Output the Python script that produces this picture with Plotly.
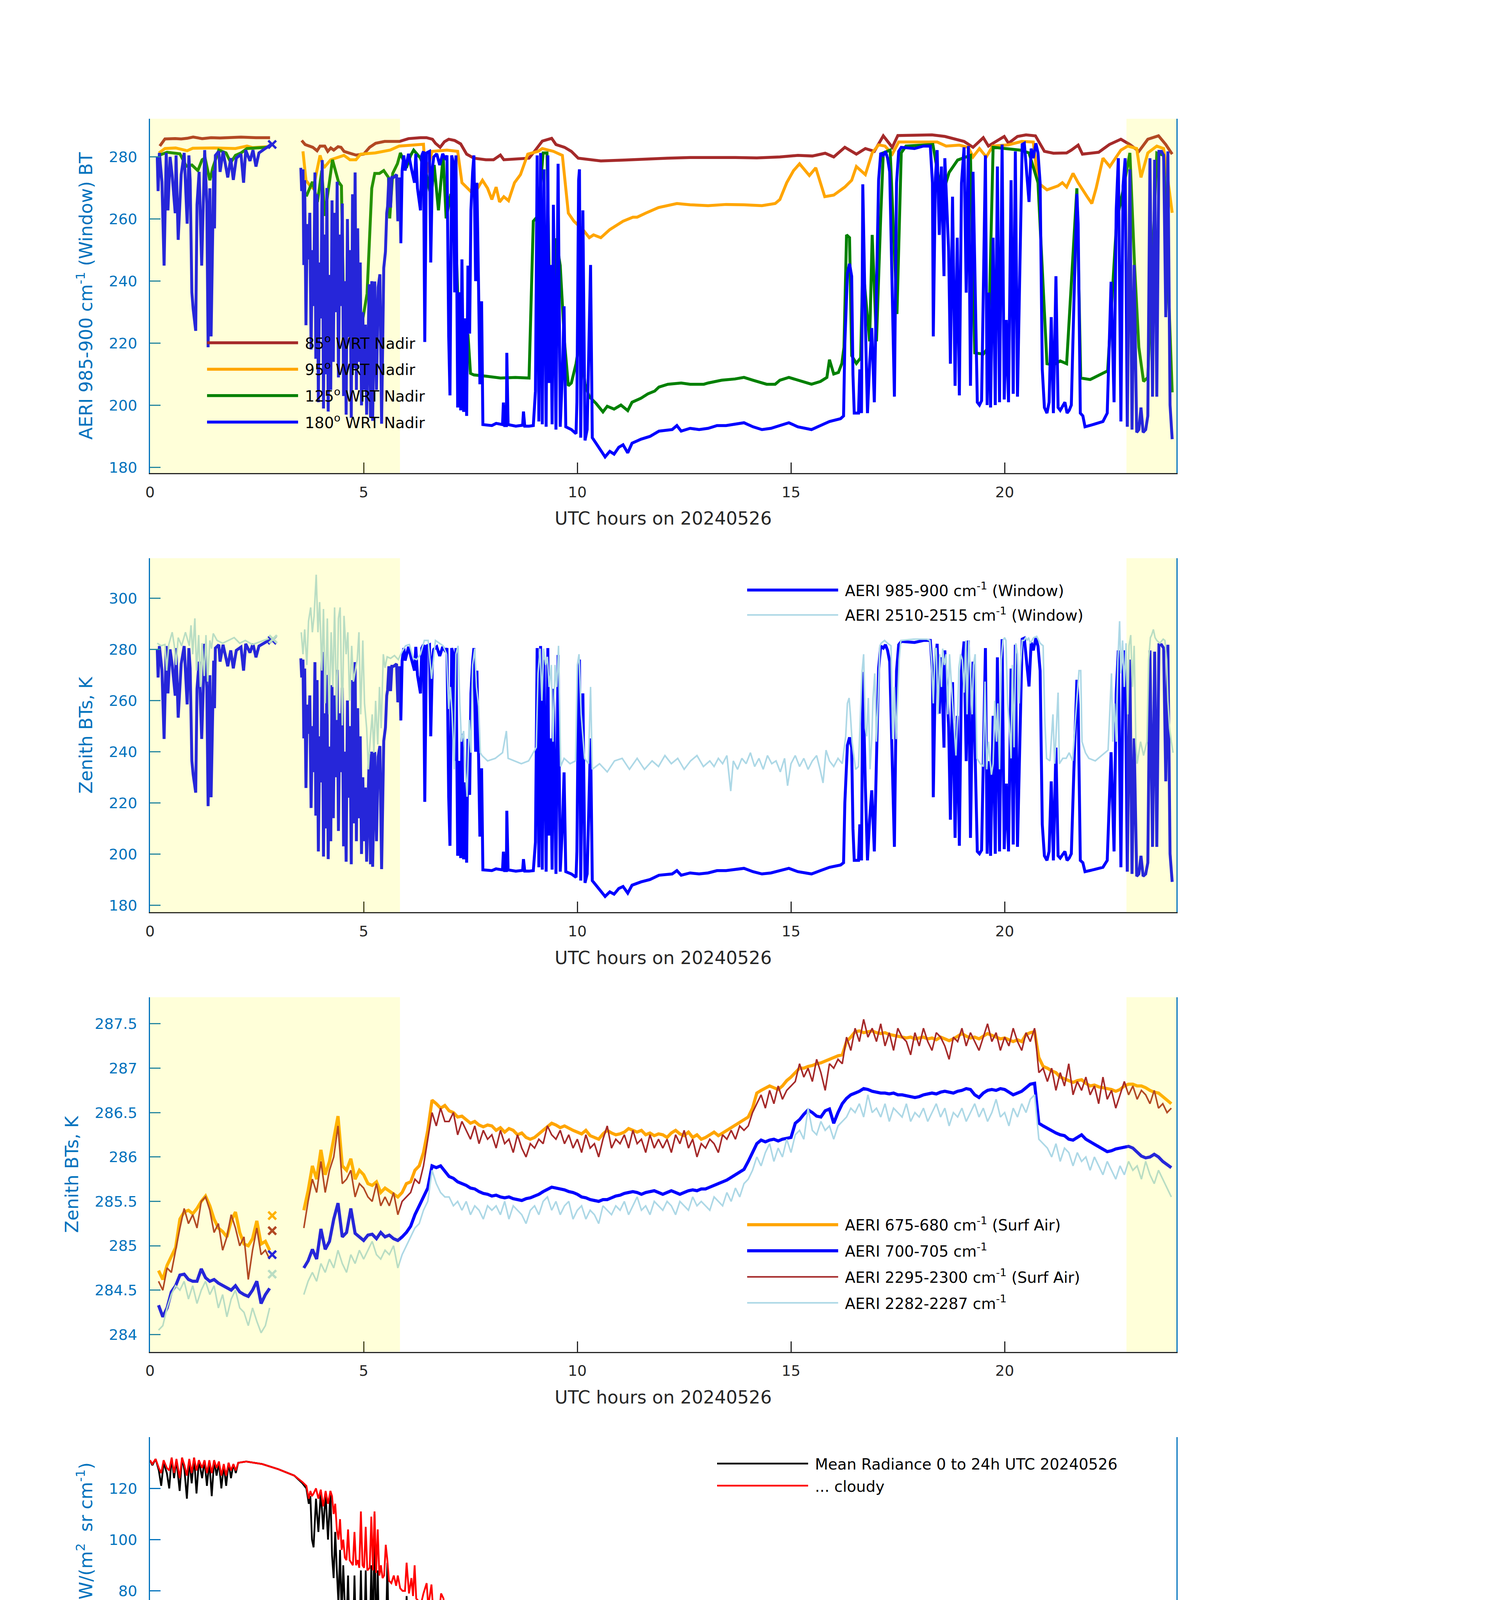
import plotly.graph_objects as go

FONT = "DejaVu Sans"
GRAY = "rgb(38,38,38)"
AXBLUE = "rgb(0,114,189)"
C_BROWN = "rgb(165,42,42)"
C_ORANGE = "rgb(255,165,0)"
C_GREEN = "rgb(0,128,0)"
C_BLUE = "rgb(0,0,255)"
C_LBLUE = "rgb(173,216,230)"

# ---------------- Panel 1 : (UTC hour, BT K) ----------------
P1_85 = [(0.23,283.5),(0.35,285.8),(0.59,285.9),(0.73,285.8),(0.87,286.0),(1.01,286.4),(1.22,285.9),(1.43,286.2),(1.64,286.1),(1.85,286.2),(2.13,286.4),(2.48,286.2),(2.81,286.2),(3.2,None),
(3.55,285.3),(3.63,284.0),(3.81,283.1),(3.91,282.0),(3.98,283.5),(4.09,283.5),(4.16,281.8),(4.23,282.9),(4.30,282.2),(4.40,283.3),(4.47,283.1),(4.54,281.8),(4.65,281.3),(4.82,280.6),(5.00,280.9),(5.14,283.1),(5.28,284.4),(5.49,285.0),(5.84,285.0),(6.05,285.9),(6.33,286.2),(6.47,286.2),(6.61,285.7),(6.68,284.4),(6.79,283.1),(6.89,284.9),(6.99,285.7),(7.13,285.3),(7.27,284.2),(7.41,280.9),(7.58,279.6),(7.86,279.1),(8.04,279.1),(8.20,280.6),(8.28,279.1),(8.63,279.4),(8.87,279.6),(9.02,282.2),(9.18,285.1),(9.40,286.0),(9.50,284.0),(9.70,283.1),(9.86,281.8),(10.02,279.6),(10.55,278.7),(11.10,279.0),(11.60,279.4),(12.10,279.6),(12.64,279.8),(13.20,279.9),(13.70,279.8),(14.20,279.7),(14.74,280.0),(15.16,280.5),(15.50,280.3),(15.80,281.2),(16.00,280.0),(16.26,283.1),(16.53,280.9),(16.74,282.7),(16.95,281.8),(17.16,286.8),(17.37,283.1),(17.50,286.9),(18.30,287.1),(18.60,286.6),(18.84,285.8),(19.05,285.0),(19.26,283.1),(19.50,286.2),(19.62,283.5),(19.78,284.9),(19.99,286.6),(20.09,284.4),(20.30,286.6),(20.50,287.1),(20.72,286.8),(20.93,281.8),(21.14,281.2),(21.45,281.3),(21.56,282.2),(21.72,283.8),(21.82,280.9),(22.20,281.5),(22.45,284.0),(22.72,285.7),(22.93,284.0),(23.14,281.8),(23.35,285.7),(23.60,286.8),(23.77,284.0),(23.92,280.9)]

P1_95 = [(0.21,281.3),(0.35,282.7),(0.6,282.9),(0.87,282.0),(1.0,282.8),(1.5,282.9),(2.0,282.7),(2.27,283.5),(2.4,283.0),(2.76,283.3),(3.2,None),
(3.58,281.8),(3.65,272.5),(3.77,270.3),(3.82,269.9),(3.98,280.5),(4.07,276.5),(4.23,279.1),(4.44,279.9),(4.54,280.5),(4.68,279.1),(4.82,279.1),(4.93,280.9),(5.27,281.3),(5.62,282.2),(5.83,283.5),(6.40,284.1),(6.45,273.4),(6.60,281.8),(6.95,282.2),(7.20,281.8),(7.30,271.7),(7.50,269.0),(7.57,267.7),(7.78,272.5),(7.90,269.9),(8.00,266.3),(8.10,270.3),(8.18,265.5),(8.28,267.2),(8.39,265.9),(8.53,271.7),(8.67,274.3),(8.84,280.9),
(9.08,281.8),(9.18,282.7),(9.44,281.8),(9.65,280.5),(9.79,261.9),(9.92,259.3),(10.13,256.6),(10.28,254.0),(10.38,254.9),(10.55,254.0),(10.76,256.6),(11.07,259.3),(11.30,260.6),(11.40,260.6),(11.60,261.9),(11.90,263.7),(12.33,265.0),(12.64,264.6),(13.06,264.3),(13.48,264.7),(13.90,264.6),(14.32,264.3),(14.63,265.0),(14.74,266.3),(14.90,271.7),(15.06,275.6),(15.20,277.8),(15.43,274.0),(15.58,276.5),(15.79,267.2),(16.00,267.7),(16.26,270.3),(16.42,272.5),(16.53,276.9),(16.74,274.3),(16.90,281.3),(17.05,283.9),(17.20,283.5),(17.37,280.9),(17.52,284.8),(18.42,284.8),(18.63,283.5),(18.94,283.8),(19.15,283.1),(19.26,280.0),(19.41,282.7),(19.57,280.0),(19.72,283.5),(20.09,283.9),(20.40,285.0),(20.67,284.8),(20.78,271.7),(20.99,269.4),(21.25,270.7),(21.35,271.7),(21.45,270.3),(21.60,274.7),(21.72,271.7),(21.93,267.2),(22.04,265.0),(22.14,269.9),(22.30,279.6),(22.46,276.9),(22.72,282.2),(22.88,283.5),(23.09,282.7),(23.19,273.4),(23.35,281.3),(23.56,283.5),(23.72,282.7),(23.82,272.5),(23.92,262.0)]

P1_125 = [(0.21,280.5),(0.40,281.5),(0.70,281.0),(0.85,277.0),(0.98,277.4),(1.12,275.6),(1.22,279.1),(1.29,279.6),(1.40,272.5),(1.47,276.5),(1.61,282.2),(1.78,281.3),(1.89,278.2),(2.00,280.5),(2.13,281.3),(2.27,282.7),(2.76,283.1),(3.2,None),
(3.58,268.0),(3.67,267.7),(3.80,272.0),(3.92,265.5),(4.02,275.6),(4.09,261.0),(4.27,279.1),(4.41,272.0),(4.48,270.7),(4.55,216.0),(4.62,236.0),(4.73,227.0),(4.87,217.0),(4.97,227.0),(5.08,236.0),(5.19,269.9),(5.26,274.7),(5.37,274.7),(5.47,275.6),(5.58,273.4),(5.61,260.2),(5.68,274.7),(5.79,277.8),(5.86,281.3),(6.00,276.5),(6.10,280.5),(6.17,282.2),(6.33,279.6),(6.47,274.3),(6.58,266.8),(6.65,277.4),(6.75,262.8),(6.86,280.5),(6.93,260.2),(7.04,268.1),(7.14,261.0),(7.20,236.4),(7.30,218.7),(7.37,212.5),(7.44,223.0),(7.50,210.3),(7.58,209.8),(7.86,209.4),(8.20,208.8),(8.55,209.0),(8.87,208.8),(8.97,259.3),(9.08,261.0),(9.20,281.3),(9.29,281.3),(9.34,243.4),(9.41,221.2),(9.50,253.8),(9.60,245.0),(9.70,220.3),(9.79,206.3),(9.86,207.2),(9.97,213.4),(10.07,222.2),(10.18,206.8),(10.28,202.8),(10.44,200.6),(10.60,197.9),(10.70,199.7),(10.86,198.8),(11.02,200.1),(11.18,198.3),(11.28,201.0),(11.49,202.3),(11.65,203.7),(11.81,204.6),(11.91,205.9),(12.12,206.8),(12.43,207.2),(12.64,206.8),(12.96,206.8),(13.06,207.2),(13.38,208.1),(13.69,208.5),(13.90,209.0),(14.11,208.1),(14.43,206.8),(14.63,206.8),(14.74,208.1),(14.95,209.0),(15.27,207.7),(15.48,206.8),(15.69,207.7),(15.84,209.0),(15.90,214.7),(16.00,210.1),(16.11,210.6),(16.19,213.5),(16.24,218.7),(16.30,254.9),(16.37,254.0),(16.42,216.0),(16.53,213.5),(16.63,215.3),(16.68,245.2),(16.74,236.4),(16.84,220.6),(16.90,254.9),(17.00,220.6),(17.10,261.0),(17.16,281.3),(17.32,282.2),(17.48,229.4),(17.58,281.3),(17.69,283.5),(18.32,284.0),(18.42,276.1),(18.53,267.2),(18.70,275.0),(18.90,279.0),(19.20,280.5),(19.30,216.9),(19.50,216.5),(19.62,218.7),(19.73,283.1),(20.36,282.2),(20.57,281.3),(20.78,271.7),(20.99,213.4),(21.14,213.0),(21.30,214.3),(21.45,213.4),(21.69,269.9),(21.78,208.8),(22.00,208.3),(22.20,209.7),(22.41,211.1),(22.62,259.3),(22.78,269.9),(22.93,281.3),(23.04,245.0),(23.14,218.7),(23.25,207.7),(23.35,209.0),(23.56,281.3),(23.72,280.5),(23.82,245.0),(23.92,204.2)]

P1_180 = [(0.17,280.0),(0.19,269.0),(0.22,281.3),(0.28,272.0),(0.33,245.0),(0.38,281.3),(0.42,262.8),(0.47,280.0),(0.52,274.0),(0.59,261.9),(0.61,280.5),(0.66,253.3),(0.73,274.3),(0.80,281.3),(0.87,258.5),(0.91,280.5),(0.94,272.6),(0.98,236.4),(1.01,231.1),(1.07,224.0),(1.10,264.6),(1.15,275.2),(1.21,245.0),(1.28,282.2),(1.33,265.0),(1.36,218.7),(1.40,269.9),(1.43,222.2),(1.49,275.6),(1.51,257.0),(1.53,280.5),(1.61,281.8),(1.64,275.2),(1.71,281.8),(1.82,273.4),(1.89,279.6),(1.95,272.6),(2.02,279.6),(2.13,280.9),(2.19,271.7),(2.24,282.2),(2.34,278.7),(2.41,282.2),(2.48,276.9),(2.55,281.3),(2.69,282.7),(2.83,284.0),(3.2,None),
(3.53,276.5),(3.55,269.0),(3.58,276.0),(3.60,245.2),(3.62,272.5),(3.65,225.8),(3.68,258.4),(3.71,247.0),(3.74,262.0),(3.77,218.0),(3.80,250.0),(3.83,232.0),(3.86,275.0),(3.88,215.0),(3.91,268.0),(3.94,201.0),(3.97,246.0),(4.00,228.0),(4.03,279.0),(4.06,199.0),(4.09,255.0),(4.11,210.0),(4.14,270.0),(4.17,198.0),(4.20,242.0),(4.23,205.0),(4.26,266.0),(4.29,214.0),(4.32,262.0),(4.35,230.0),(4.38,272.0),(4.41,209.0),(4.44,255.0),(4.47,232.0),(4.50,265.0),(4.53,203.0),(4.56,240.0),(4.59,197.0),(4.62,260.0),(4.65,222.0),(4.68,250.0),(4.71,196.0),(4.74,268.0),(4.77,212.0),(4.80,275.0),(4.83,205.0),(4.86,257.0),(4.89,214.0),(4.92,246.0),(4.95,200.0),(4.98,230.0),(5.01,205.0),(5.04,226.0),(5.07,197.0),(5.10,218.0),(5.13,239.0),(5.16,196.0),(5.19,240.0),
(5.21,195.0),(5.26,239.9),(5.30,205.0),(5.34,238.0),(5.38,242.2),(5.42,194.1),(5.47,244.2),(5.51,249.5),(5.54,261.9),(5.56,264.1),(5.59,273.4),(5.63,263.7),(5.66,273.4),(5.70,273.4),(5.77,274.3),(5.80,259.3),(5.84,273.4),(5.87,252.2),(5.90,275.6),(5.94,280.5),(5.97,275.6),(6.05,281.0),(6.12,276.1),(6.19,271.7),(6.22,281.0),(6.26,269.9),(6.33,262.8),(6.36,280.5),(6.40,281.8),(6.43,220.4),(6.47,281.3),(6.54,281.8),(6.57,246.0),(6.61,276.5),(6.64,280.0),(6.71,281.0),(6.78,277.4),(6.85,281.0),(6.92,279.1),(6.95,280.5),(6.99,222.2),(7.02,203.2),(7.06,280.5),(7.09,278.7),(7.13,236.4),(7.16,280.5),(7.20,199.3),(7.24,236.4),(7.27,198.4),(7.30,247.0),(7.34,197.9),(7.37,228.0),(7.41,196.6),(7.44,245.0),(7.48,223.1),(7.51,262.8),(7.55,275.2),(7.58,280.5),(7.62,240.0),(7.65,271.7),(7.69,237.2),(7.72,206.8),(7.76,233.5),(7.79,193.8),(8.00,193.5),(8.10,194.2),(8.25,193.8),(8.27,200.9),(8.30,193.5),(8.34,193.5),(8.35,216.9),(8.38,193.8),(8.56,193.3),(8.72,193.6),(8.74,198.0),(8.77,193.3),(8.87,193.3),(8.97,193.5),
(9.02,204.6),(9.06,280.5),(9.10,194.8),(9.14,281.3),(9.18,193.9),(9.22,276.0),(9.27,193.1),(9.31,280.5),(9.34,207.2),(9.37,245.2),(9.41,193.9),(9.44,264.6),(9.50,192.2),(9.55,277.8),(9.60,193.1),(9.65,209.9),(9.69,231.9),(9.73,193.1),(9.86,192.2),(9.97,190.9),(9.99,201.0),(10.01,236.3),(10.03,272.5),(10.05,276.0),(10.08,189.6),(10.13,262.8),(10.18,188.7),(10.23,192.2),(10.31,245.2),(10.35,189.6),(10.44,187.8),(10.55,185.2),(10.65,183.4),(10.76,185.2),(10.86,184.3),(10.97,186.5),(11.07,187.3),(11.18,184.7),(11.28,187.8),(11.49,189.1),(11.70,190.0),(11.91,191.7),(12.22,192.2),(12.33,193.5),(12.43,191.7),(12.64,192.6),(12.85,192.2),(13.06,192.6),(13.27,193.5),(13.48,193.5),(13.69,193.9),(13.90,194.4),(14.11,193.1),(14.32,192.2),(14.53,192.6),(14.74,193.5),(14.95,194.4),(15.16,193.1),(15.37,192.6),(15.48,192.2),(15.69,193.5),(15.90,194.8),(16.16,195.7),(16.23,196.6),(16.26,220.0),(16.32,242.5),(16.37,245.6),(16.42,241.6),(16.45,209.9),(16.48,197.5),(16.58,197.5),(16.61,211.6),(16.65,197.5),(16.68,271.2),(16.74,226.6),(16.79,197.5),(16.84,213.4),(16.89,224.9),(16.95,201.0),(17.00,238.1),(17.05,272.5),(17.10,281.3),(17.16,280.5),(17.21,281.8),(17.26,279.6),(17.31,275.2),(17.37,236.3),(17.42,202.8),(17.47,271.6),(17.52,281.8),(17.58,283.1),(17.89,282.7),(18.10,283.5),(18.26,283.5),(18.31,271.6),(18.33,222.2),(18.38,273.4),(18.42,282.2),(18.47,254.9),(18.52,276.9),(18.58,241.6),(18.60,279.6),(18.65,262.8),(18.69,249.6),(18.73,213.4),(18.78,267.2),(18.84,206.3),(18.89,254.0),(18.94,203.2),(18.99,271.6),(19.05,283.1),(19.10,236.3),(19.15,283.5),(19.20,206.3),(19.26,275.2),(19.31,236.3),(19.36,201.0),(19.41,200.1),(19.46,201.5),(19.52,254.0),(19.55,280.5),(19.59,200.1),(19.63,236.3),(19.67,199.3),(19.73,254.0),(19.78,200.1),(19.83,276.9),(19.88,201.0),(19.94,284.0),(19.99,201.9),(20.04,227.5),(20.09,201.0),(20.15,272.5),(20.20,203.7),(20.25,281.8),(20.30,202.8),(20.36,245.2),(20.41,284.0),(20.46,284.4),(20.51,276.9),(20.57,265.5),(20.62,282.7),(20.67,279.6),(20.73,284.4),(20.78,281.3),(20.83,271.6),(20.88,211.6),(20.93,199.3),(20.99,197.5),(21.04,201.0),(21.09,228.4),(21.14,197.5),(21.20,241.6),(21.25,199.3),(21.30,198.4),(21.41,201.0),(21.46,197.5),(21.51,198.4),(21.56,200.1),(21.62,232.8),(21.65,245.2),(21.69,268.1),(21.72,258.4),(21.77,197.5),(21.83,196.6),(21.88,193.1),(22.09,193.9),(22.30,194.8),(22.40,197.5),(22.49,239.8),(22.56,201.0),(22.61,262.8),(22.66,279.6),(22.72,194.8),(22.77,270.7),(22.82,279.6),(22.87,193.1),(22.93,276.0),(22.98,192.2),(23.03,245.2),(23.09,191.3),(23.14,192.2),(23.19,199.3),(23.24,191.3),(23.30,192.2),(23.35,196.6),(23.40,279.6),(23.46,202.8),(23.51,279.1),(23.56,202.8),(23.61,281.8),(23.67,281.8),(23.72,280.5),(23.77,228.4),(23.82,281.8),(23.87,200.1),(23.92,189.1)]

P1_X = [(2.86, 284.0)]

# ---------------- Panel 2 : 2510-2515 cm-1 window (UTC hour, BT K) ----------------
P2_2510 = [(0.17,282.4),(0.26,281.4),(0.35,281.9),(0.39,271.7),(0.44,281.9),(0.52,286.7),(0.57,281.4),(0.61,273.9),(0.66,284.6),(0.74,281.4),(0.83,286.7),(0.92,281.4),(0.96,289.4),(1.00,278.1),(1.05,292.1),(1.09,271.7),(1.14,285.6),(1.18,265.3),(1.22,282.4),(1.27,269.6),(1.31,285.6),(1.35,267.4),(1.40,283.5),(1.44,280.3),(1.48,286.2),(1.57,283.5),(1.70,282.4),(1.83,283.5),(1.97,284.6),(2.10,282.4),(2.23,283.5),(2.40,281.9),(2.58,283.0),(2.75,284.0),(2.84,284.6),(3.2,None),
(3.54,286.7),(3.58,278.1),(3.62,287.8),(3.67,273.9),(3.71,291.0),(3.76,296.4),(3.80,286.7),(3.84,293.1),(3.89,309.2),(3.93,286.7),(3.97,298.5),(4.02,271.7),(4.06,295.8),(4.10,258.9),(4.15,292.1),(4.19,254.6),(4.24,286.7),(4.28,265.3),(4.32,296.4),(4.37,252.4),(4.41,292.1),(4.45,296.4),(4.50,250.3),(4.54,293.1),(4.59,278.1),(4.63,286.7),(4.67,259.9),(4.72,281.4),(4.76,267.4),(4.85,276.0),(4.89,286.7),(4.93,254.6),(4.98,283.5),(5.02,258.9),(5.07,249.2),(5.11,233.1),(5.15,243.9),(5.20,254.6),(5.24,239.6),(5.28,259.9),(5.33,242.8),(5.37,265.3),(5.41,249.2),(5.46,278.1),(5.50,272.8),(5.55,277.1),(5.63,276.5),(5.72,277.6),(5.81,276.0),(5.90,279.2),(5.98,281.4),(6.07,281.9),(6.16,276.5),(6.24,276.0),(6.33,278.1),(6.42,283.5),(6.51,283.5),(6.59,268.5),(6.68,283.5),(6.77,282.4),(6.86,281.4),(6.94,278.1),(6.99,256.7),(7.03,265.3),(7.07,254.6),(7.12,233.1),(7.16,278.1),(7.21,281.4),(7.25,258.9),(7.29,243.9),(7.34,248.1),(7.38,233.1),(7.42,222.4),(7.47,252.4),(7.51,239.6),(7.55,273.9),(7.60,280.3),(7.64,265.3),(7.69,257.8),(7.73,239.6),(7.77,238.5),(7.90,236.4),(8.08,237.4),(8.25,239.6),(8.34,248.1),(8.38,237.4),(8.52,236.4),(8.69,235.3),(8.86,236.4),(9.04,241.7),(9.08,270.6),(9.13,280.3),(9.17,259.9),(9.21,280.3),(9.26,273.9),(9.30,277.1),(9.34,265.3),(9.39,273.9),(9.43,243.9),(9.48,273.9),(9.52,265.3),(9.56,281.4),(9.61,234.2),(9.69,237.4),(9.83,235.3),(9.96,236.4),(10.00,273.9),(10.04,278.1),(10.09,254.6),(10.17,237.4),(10.26,235.3),(10.31,265.3),(10.35,233.1),(10.52,235.3),(10.70,232.1),(10.87,236.4),(11.05,237.4),(11.22,233.1),(11.40,237.4),(11.57,233.1),(11.75,236.4),(11.90,234.2),(12.05,238.5),(12.20,235.3),(12.35,237.4),(12.50,233.1),(12.65,236.4),(12.80,238.5),(12.95,234.2),
(13.10,236.4),(13.20,234.2),(13.30,237.4),(13.40,235.3),(13.50,238.5),(13.59,224.6),(13.65,236.4),(13.75,233.1),(13.85,237.4),(13.95,235.3),(14.05,239.6),(14.15,234.2),(14.25,237.4),(14.35,233.1),(14.45,238.5),(14.55,235.3),(14.65,236.4),(14.75,232.1),(14.85,237.4),(14.92,226.7),(15.00,235.3),(15.10,238.5),(15.20,234.2),(15.30,237.4),(15.40,233.1),(15.50,236.4),(15.60,238.5),(15.68,233.1),(15.75,227.8),(15.82,240.6),(15.90,236.4),(16.00,234.2),(16.10,237.4),(16.20,235.3),
(16.28,246.0),(16.32,258.9),(16.36,261.0),(16.39,254.6),(16.43,243.9),(16.51,233.1),(16.58,234.2),(16.66,270.6),(16.70,278.1),(16.74,249.2),(16.77,246.0),(16.81,261.0),(16.85,233.1),(16.89,244.9),(16.92,261.0),(16.96,270.6),(17.00,243.9),(17.04,261.0),(17.08,281.4),(17.11,282.4),(17.19,283.5),(17.26,282.4),(17.34,281.4),(17.38,244.9),(17.42,265.3),(17.46,244.9),(17.49,258.9),(17.53,276.0),(17.57,283.5),(17.72,283.7),(17.87,284.0),(18.02,284.0),(18.18,284.0),(18.25,283.5),(18.29,276.0),(18.33,258.9),(18.37,280.3),(18.40,280.3),(18.44,254.6),(18.48,278.1),(18.52,265.3),(18.55,280.3),(18.59,273.9),(18.63,278.1),(18.67,254.6),(18.71,278.1),(18.78,258.9),(18.86,238.5),(18.90,254.6),(18.93,272.8),(18.97,278.1),(19.01,276.0),(19.05,263.1),(19.09,283.5),(19.12,254.6),(19.16,283.5),(19.20,270.6),(19.24,254.6),(19.27,273.9),(19.31,278.1),(19.35,237.4),(19.43,235.3),(19.50,234.2),(19.54,267.4),(19.58,233.1),(19.62,243.9),(19.69,231.0),(19.73,235.3),(19.77,259.9),(19.81,243.9),(19.84,258.9),(19.88,233.1),(19.92,276.0),(19.96,283.5),(20.00,284.6),(20.03,283.5),(20.07,258.9),(20.11,250.3),(20.15,237.4),(20.18,273.9),(20.22,241.7),(20.26,282.4),(20.30,278.1),(20.34,258.9),(20.37,273.9),(20.41,283.5),(20.45,283.5),(20.49,284.6),(20.53,283.5),(20.56,284.6),(20.60,282.4),(20.68,284.6),(20.75,285.1),(20.83,282.4),(20.90,281.4),(20.94,252.4),(20.98,237.4),(21.06,236.4),(21.13,254.6),(21.17,235.3),(21.25,263.1),(21.28,235.3),(21.36,237.4),(21.44,237.4),(21.51,239.6),(21.59,236.4),(21.66,253.5),(21.74,271.7),(21.78,271.7),(21.81,243.9),(21.89,239.6),(21.97,237.4),(22.12,236.4),(22.27,238.5),(22.42,240.6),(22.50,270.6),(22.53,243.9),(22.57,258.9),(22.61,243.9),(22.65,276.0),(22.69,291.0),(22.72,270.6),(22.76,283.5),(22.80,265.3),(22.84,282.4),(22.88,254.6),(22.91,281.4),(22.95,285.6),(22.99,265.3),(23.03,281.4),(23.07,243.9),(23.10,235.3),(23.18,243.9),(23.25,238.5),(23.33,243.9),(23.37,276.0),(23.41,284.6),(23.44,285.6),(23.48,287.8),(23.52,284.6),(23.56,283.5),(23.63,282.4),(23.71,284.0),(23.75,283.5),(23.79,276.0),(23.82,259.9),(23.86,249.2),(23.90,243.9),(23.94,239.6)]

P2_X_WIN = [(2.86, 283.6)]
P2_X_2510 = [(2.88, 284.0)]

# ---------------- Panel 3 : surface-air channels ----------------
T3_PRE = [0.2,0.3,0.4,0.5,0.6,0.7,0.8,0.9,1.0,1.1,1.2,1.3,1.4,1.5,1.6,1.7,1.8,1.9,2.0,2.1,2.2,2.3,2.4,2.5,2.6,2.7,2.8]
T3_POST = [3.6,3.7,3.8,3.9,
4.0,4.1,4.2,4.3,4.4,4.5,4.6,4.7,4.8,4.9,
5.0,5.1,5.2,5.3,5.4,5.5,5.6,5.7,5.8,5.9,
6.0,6.1,6.2,6.3,6.4,6.5,6.6,6.7,6.8,6.9,
7.0,7.1,7.2,7.3,7.4,7.5,7.6,7.7,7.8,7.9,
8.0,8.1,8.2,8.3,8.4,8.5,8.6,8.7,8.8,8.9,
9.0,9.1,9.2,9.3,9.4,9.5,9.6,9.7,9.8,9.9,
10.0,10.1,10.2,10.3,10.4,10.5,10.6,10.7,10.8,10.9,
11.0,11.1,11.2,11.3,11.4,11.5,11.6,11.7,11.8,11.9,
12.0,12.1,12.2,12.3,12.4,12.5,12.6,12.7,12.8,12.9,
13.0,13.1,13.2,13.3,13.4,13.5,13.6,13.7,13.8,13.9,
14.0,14.1,14.2,14.3,14.4,14.5,14.6,14.7,14.8,14.9,
15.0,15.1,15.2,15.3,15.4,15.5,15.6,15.7,15.8,15.9,
16.0,16.1,16.2,16.3,16.4,16.5,16.6,16.7,16.8,16.9,
17.0,17.1,17.2,17.3,17.4,17.5,17.6,17.7,17.8,17.9,
18.0,18.1,18.2,18.3,18.4,18.5,18.6,18.7,18.8,18.9,
19.0,19.1,19.2,19.3,19.4,19.5,19.6,19.7,19.8,19.9,
20.0,20.1,20.2,20.3,20.4,20.5,20.6,20.7,20.8,20.9,
21.0,21.1,21.2,21.3,21.4,21.5,21.6,21.7,21.8,21.9,
22.0,22.1,22.2,22.3,22.4,22.5,22.6,22.7,22.8,22.9,
23.0,23.1,23.2,23.3,23.4,23.5,23.6,23.7,23.8,23.9]

O_PRE = [284.72,284.62,284.78,284.88,284.98,285.3,285.38,285.4,285.36,285.42,285.5,285.56,285.45,285.3,285.2,285.16,285.1,285.28,285.38,285.15,285.02,285.0,285.08,285.28,285.02,285.05,284.95]
O_POST = [285.4,285.62,285.9,285.75,
286.08,285.8,285.95,286.2,286.46,285.9,285.85,285.98,285.75,285.85,
285.8,285.7,285.68,285.72,285.6,285.65,285.62,285.58,285.55,285.6,
285.7,285.72,285.85,285.9,286.05,286.3,286.64,286.6,286.55,286.58,
286.52,286.5,286.45,286.46,286.42,286.38,286.4,286.36,286.34,286.36,
286.35,286.3,286.33,286.28,286.32,286.3,286.25,286.27,286.22,286.2,
286.22,286.26,286.3,286.35,286.38,286.36,286.33,286.35,286.32,286.3,
286.28,286.26,286.3,286.24,286.22,286.2,286.26,286.3,286.27,286.25,
286.26,286.28,286.32,286.3,286.28,286.3,286.25,286.27,286.24,286.26,
286.25,286.22,286.27,286.3,286.26,286.24,286.28,286.22,286.25,286.2,
286.22,286.25,286.28,286.24,286.27,286.3,286.33,286.36,286.4,286.42,
286.45,286.55,286.72,286.75,286.78,286.8,286.78,286.76,286.8,286.86,
286.9,286.95,287.0,287.0,287.02,287.03,287.05,287.06,287.08,287.1,
287.12,287.14,287.15,287.3,287.35,287.41,287.42,287.4,287.41,287.42,
287.4,287.39,287.4,287.38,287.37,287.36,287.35,287.34,287.35,287.33,
287.34,287.35,287.33,287.34,287.32,287.35,287.33,287.31,287.33,287.36,
287.39,287.36,287.34,287.35,287.33,287.36,287.39,287.37,287.35,287.33,
287.34,287.32,287.3,287.32,287.3,287.38,287.4,287.41,287.12,287.02,
287.0,286.97,286.95,286.9,286.88,286.86,286.84,286.86,286.87,286.83,
286.8,286.81,286.79,286.78,286.77,286.76,286.74,286.76,286.8,286.82,
286.82,286.8,286.8,286.78,286.75,286.73,286.72,286.68,286.64,286.6]

B_PRE = [284.33,284.2,284.3,284.48,284.55,284.67,284.68,284.62,284.6,284.6,284.74,284.64,284.6,284.62,284.58,284.55,284.52,284.5,284.55,284.48,284.45,284.43,284.5,284.6,284.35,284.45,284.52]
B_POST = [284.75,284.83,284.96,284.85,
285.19,284.96,285.05,285.3,285.48,285.1,285.15,285.42,285.14,285.1,
285.06,285.12,285.13,285.08,285.15,285.1,285.12,285.08,285.06,285.1,
285.15,285.22,285.35,285.45,285.55,285.65,285.9,285.88,285.9,285.84,
285.78,285.76,285.72,285.7,285.68,285.65,285.64,285.61,285.59,285.58,
285.56,285.57,285.55,285.54,285.55,285.53,285.52,285.51,285.53,285.54,
285.56,285.58,285.61,285.64,285.66,285.65,285.64,285.63,285.61,285.6,
285.58,285.55,285.54,285.52,285.51,285.5,285.52,285.52,285.54,285.56,
285.57,285.59,285.6,285.61,285.6,285.58,285.6,285.61,285.62,285.6,
285.58,285.6,285.62,285.6,285.58,285.6,285.62,285.63,285.62,285.64,
285.64,285.66,285.68,285.7,285.72,285.74,285.77,285.8,285.83,285.86,
285.95,286.06,286.15,286.19,286.17,286.19,286.2,286.18,286.2,286.21,
286.22,286.38,286.42,286.48,286.53,286.5,286.46,286.45,286.52,286.54,
286.38,286.5,286.6,286.66,286.7,286.72,286.74,286.77,286.76,286.74,
286.73,286.72,286.72,286.71,286.72,286.7,286.7,286.69,286.68,286.67,
286.68,286.7,286.71,286.72,286.71,286.73,286.74,286.73,286.72,286.74,
286.75,286.77,286.76,286.7,286.67,286.72,286.75,286.76,286.75,286.77,
286.76,286.73,286.7,286.72,286.74,286.78,286.82,286.83,286.38,286.35,
286.32,286.3,286.27,286.25,286.24,286.2,286.19,286.22,286.25,286.2,
286.17,286.15,286.12,286.08,286.06,286.07,286.09,286.1,286.11,286.12,
286.1,286.05,286.01,285.99,286.0,286.03,286.0,285.95,285.92,285.88]

R_PRE = [284.6,284.5,284.75,284.7,284.95,285.2,285.42,285.25,285.35,285.2,285.5,285.55,285.4,285.15,285.25,284.95,285.1,285.35,285.2,285.0,285.1,284.62,284.95,285.2,284.9,284.95,284.85]
R_POST = [285.2,285.5,285.75,285.6,
285.95,285.6,285.85,286.0,286.35,285.7,285.75,285.85,285.55,285.7,
285.65,285.55,285.5,285.7,285.45,285.55,285.45,285.6,285.35,285.5,
285.55,285.6,285.75,285.7,285.9,286.2,286.5,286.35,286.55,286.4,
286.4,286.5,286.25,286.4,286.3,286.2,286.35,286.15,286.3,286.2,
286.25,286.1,286.3,286.15,286.2,286.05,286.25,286.1,286.0,286.15,
286.1,286.2,286.15,286.35,286.25,286.2,286.3,286.15,286.25,286.1,
286.2,286.05,286.25,286.1,286.15,286.0,286.2,286.35,286.1,286.2,
286.15,286.25,286.1,286.3,286.15,286.2,286.05,286.25,286.1,286.2,
286.1,286.2,286.05,286.25,286.15,286.3,286.1,286.2,286.0,286.15,
286.1,286.2,286.15,286.05,286.25,286.2,286.3,286.2,286.35,286.3,
286.35,286.5,286.6,286.7,286.55,286.75,286.6,286.8,286.65,286.75,
286.8,286.85,287.05,286.9,287.0,286.85,287.1,286.95,286.75,287.05,
287.0,287.1,287.05,287.35,287.2,287.45,287.3,287.55,287.35,287.45,
287.3,287.5,287.25,287.4,287.2,287.45,287.35,287.3,287.15,287.4,
287.25,287.45,287.3,287.2,287.4,287.35,287.25,287.1,287.35,287.3,
287.45,287.25,287.4,287.3,287.2,287.35,287.5,287.3,287.4,287.2,
287.35,287.25,287.45,287.3,287.2,287.4,287.3,287.45,286.95,287.0,
286.85,287.0,286.75,286.95,286.8,287.05,286.7,286.85,286.75,286.9,
286.7,286.8,286.6,286.9,286.65,286.75,286.55,286.7,286.85,286.7,
286.8,286.65,286.75,286.7,286.6,286.75,286.55,286.6,286.5,286.55]

L_PRE = [284.05,284.1,284.3,284.45,284.55,284.5,284.6,284.4,284.55,284.35,284.5,284.6,284.45,284.55,284.3,284.45,284.2,284.4,284.5,284.3,284.25,284.1,284.3,284.15,284.02,284.1,284.3]
L_POST = [284.45,284.6,284.7,284.6,
284.8,284.7,284.85,284.75,284.95,284.8,284.7,284.9,284.8,284.95,
284.85,284.95,285.05,284.9,284.85,284.95,284.9,285.0,284.75,284.9,
285.0,285.1,285.2,285.25,285.4,285.5,285.85,285.7,285.6,285.55,
285.55,285.45,285.5,285.4,285.5,285.35,285.45,285.4,285.3,285.45,
285.4,285.45,285.35,285.5,285.3,285.45,285.4,285.35,285.25,285.4,
285.45,285.35,285.5,285.55,285.4,285.5,285.35,285.45,285.5,285.3,
285.4,285.45,285.3,285.4,285.35,285.25,285.45,285.4,285.35,285.45,
285.4,285.5,285.35,285.45,285.55,285.4,285.45,285.35,285.5,285.45,
285.4,285.5,285.45,285.35,285.5,285.45,285.4,285.55,285.45,285.5,
285.45,285.4,285.55,285.5,285.45,285.6,285.5,285.65,285.55,285.7,
285.75,285.85,286.0,285.9,286.05,286.15,285.95,286.1,286.0,286.2,
286.05,286.25,286.3,286.2,286.55,286.3,286.25,286.4,286.3,286.35,
286.2,286.35,286.4,286.45,286.55,286.5,286.6,286.45,286.7,286.5,
286.55,286.45,286.6,286.4,286.55,286.5,286.45,286.6,286.4,286.5,
286.45,286.55,286.4,286.5,286.6,286.45,286.55,286.35,286.5,286.45,
286.55,286.4,286.5,286.6,286.45,286.55,286.4,286.5,286.65,286.45,
286.5,286.35,286.55,286.45,286.6,286.5,286.65,286.7,286.2,286.15,
286.1,286.0,286.15,285.95,286.1,286.05,285.9,286.05,285.95,286.0,
285.85,286.0,285.9,285.8,285.95,285.85,285.75,285.9,285.8,285.95,
285.85,285.9,285.75,285.95,285.8,285.7,285.85,285.75,285.65,285.55]

P3_X_T = 2.86
P3_X_VALS = [285.34, 284.9, 285.17, 284.68]   # 675-680, 700-705, 2295-2300, 2282-2287

# ---------------- Panel 4 : (wavenumber, mean radiance, cloudy mean) ----------------
P4 = [(520,131,131),(523,129,129.5),(527,131.5,131.5),(531,127,128),(534,121,126),(537,130,131),(541,126,128),(544,120,127),(547,132,132),(550,124,126),(553,131,131.5),(557,119,124),(560,132,132),(563,127,129),(566,116,125),(569,131,131.5),(572,122,126),(575,132,132),(578,118,127),(581,131,131),(585,124,128),(588,131,131),(591,121,126),(594,130.5,131),(597,117,126),(600,131,131),(603,125,128),(606,130,130.5),(609,120,125),(612,129,129.5),(615,121,125),(618,130,130),(621,124,127),(624,129.5,129.5),(627,126,127),(630,130,130),
(640,130.5,130.5),(660,129.5,129.5),(680,127.5,127.5),(700,125,125),(710,122,122.5),(715,120,121),(718,114,116),(720,117,119),(722,100,117),(724,97,118),(727,116,120),(730,103,116),(733,119,119.5),(736,104,113),(739,118,119),(742,100,114),(745,119,119),(747,94,117),(749,85,110),(751,103,114),(753,88,104),(755,75,100),(757,96,108),(759,70,96),(761,90,100),(763,74,93),(765,66,92),(767,86,104),(769,60,92),(771,74,91),(773,58,90),(775,86,103),(777,60,90),(779,72,92),(781,57,89),(783,88,111),(785,58,90),(787,59,89),(789,88,105),(791,57,88),(794,62,89),
(796,90,109),(798,59,88),(800,110,111),(802,57,87),(804,88,104),(806,56,86),(808,70,90),(810,55,85),(812,60,86),(814,58,98),(816,91,92),(818,56,84),(821,53,83),(824,62,86),(827,52,82),(829,75,86),(832,52,81),(835,51,80),(838,51.5,80),(840,78,91),(843,51,79),(846,52,85),(848,49.5,78),(850,76,90),(852,49,77),(855,49,76),(858,48,75),(861,60,79),(865,67,83),(867,47,74),(871,67,82.5),(873,46,73),(877,55,76),(880,45,70),(883,64,79),(886,62,77),(888,43.5,69),(890,55,70),(893,43,68),(897,42,67),(900,41.5,66),(903,60,73),(906,41,65),(909,63,74),(912,40.5,64.5),(915,40,64),(918,46,66),(920,39,63),(923,38.5,62.5),(926,38,62),(930,38,61.5),(933,37.5,61),(936,55,69),(938,37,60.5),(941,37.5,60),(944,36.5,60),(947,55,69),(950,36,59),(953,35,58.5),(956,35,58),(959,34,57.5),(962,34,57.5),(966,33,57),(970,33,56.5),(974,32,55),(977,40,60),(980,32,54),(985,31.5,53),(990,31,52),(995,30.5,51.5),(1000,30.5,51),
(1006,31,51),(1010,33,51),(1013,50,61),(1016,35,51),(1020,35.5,51),(1024,36,50.5),(1027,45,56),(1030,36,50),(1035,35.5,49.5),(1040,35,49),(1044,28,46),(1048,34,48),(1052,36,48),(1056,40,47.5),(1060,35,47),(1063,25,45),(1066,40,59),(1069,24,43),(1073,25,42),(1077,23,41),(1080,24,40.5),(1084,22,40),(1088,23,40),(1090,40,52),(1093,23,39.5),(1097,22,39),(1100,40,51.5),(1103,22,39),(1107,23,38.7),(1111,22,38.5),(1115,22,38.5),(1121,40,55),(1124,22,38.5),(1128,21,38),(1132,22,37.5),(1136,38,55),(1139,21,37),(1145,21,36.5),(1150,21,36),(1155,25,37),(1160,21,35.5),(1165,48,52),(1168,21,35),(1174,52,53),(1177,22,35),(1181,27,36),(1184,21,34.5),(1187,52,52),(1190,21,33.5),(1194,28,34),(1198,20,37),(1200,24,33),(1204,20,33.5),(1208,35,44),(1211,20,32.5),(1214,29,33),(1218,19,33),(1222,41,47),(1225,18,32),(1230,18,30),(1233,23,29),(1236,17,31),(1238,48,48),(1241,17,33),(1245,30,36),(1248,25,42),(1252,20,34),(1256,33,42),(1260,27,37),(1264,40,41),(1268,41,40.5),(1272,39,39.5),(1276,28,34),(1280,36,38),(1284,26,33),(1288,35,39),(1292,28,35),(1296,37,38),(1300,31,35.5),(1305,34,36),(1309,38,38),(1313,35,36),(1317,37,37),(1322,27,30),(1325,33,35),(1329,26,29),(1333,35,35.5),
(1340,34,34),(1350,32.5,32.5),(1360,31.5,31.5),(1370,30.5,30.5),(1383,29.7,29.7),(1400,28.7,28.7),(1415,27.8,27.8),(1418,27.6,27.6),(1420,31,31.5),(1422,27.4,27.4),(1435,26.6,26.6),(1437,32,32.5),(1439,26.4,26.4),(1454,25.5,25.5),(1456,28.6,28.6),(1458,25.3,25.3),(1480,23.8,23.8),(1504,22.2,22.2),(1506,24.4,24.4),(1508,22.0,22.0),(1520,21.2,21.2),(1537,20.3,20.3),(1539,26.4,26.4),(1541,20.1,20.1),(1558,18.7,18.7),(1560,24.1,24.1),(1562,18.5,18.5),(1574,18.0,18.0),(1576,22.5,22.5),(1578,17.8,17.8),(1600,16.4,16.4),(1615,15.8,15.8),(1617,20.6,20.6),(1619,15.6,15.6),(1640,14.4,14.4),(1644,14.2,14.2),(1646,18.0,18.0),(1648,14.0,14.0),(1650,13.9,13.9),(1652,20.2,20.2),(1654,13.8,13.8),(1680,12.8,12.8),(1694,12.2,12.2),(1696,18.0,18.0),(1698,12.1,12.1),(1700,17.2,17.2),(1702,12.0,12.0),(1715,11.4,11.4),(1717,16.3,16.3),(1719,11.3,11.3),(1733,10.8,10.8),(1735,12.4,12.4),(1737,10.7,10.7),(1760,9.6,9.6),(1780,8.8,8.8),(1800,8.1,8.1)]

# ---------------- Panel 5 : (wavenumber, mean radiance, cloudy mean) ----------------
P5 = [(1800,8.3,8.6),(1805,8.1,8.3),(1811,8.0,8.08),(1815,7.64,7.8),(1820,7.7,7.75),(1824,7.5,7.5),(1828,7.55,7.6),(1833,7.2,7.3),(1838,7.3,7.32),(1842,7.13,7.2),(1847,7.0,7.05),(1851,6.54,6.76),(1855,6.25,6.5),(1860,6.6,6.62),(1864,6.32,6.54),(1869,6.54,6.58),(1873,6.18,6.3),(1878,5.37,5.74),(1882,6.1,6.12),(1887,5.81,5.88),(1891,6.03,6.05),(1895,5.74,5.88),(1900,4.64,5.15),(1904,5.67,5.67),(1909,5.37,5.45),(1913,5.52,5.6),(1918,5.37,5.45),(1922,5.45,5.38),(1927,4.64,4.86),(1931,3.84,4.35),(1933,5.15,5.15),(1938,3.77,4.28),(1942,5.0,4.95),(1947,4.93,5.0),(1951,3.1,4.28),(1955,4.79,4.86),(1960,3.03,3.69),(1964,4.64,4.64),(1969,2.52,3.4),(1973,2.38,3.18),(1975,3.33,4.2),(1980,2.08,3.1),(1984,2.67,3.25),(1989,4.28,4.28),(1993,4.13,4.2),(1998,2.67,3.18),(2002,1.94,2.81),(2004,3.25,3.9),(2009,2.08,2.74),(2013,3.91,3.84),(2018,3.62,3.47),(2022,2.08,2.45),(2026,3.69,3.55),(2029,1.5,2.38),(2033,1.46,2.3),(2038,2.81,3.1),(2042,3.55,3.55),(2046,1.5,2.52),(2051,1.5,2.45),(2055,2.23,3.2),(2060,1.35,2.45),(2064,2.67,3.25),(2069,1.57,2.23),(2073,1.35,2.23),(2078,1.94,2.96),(2082,1.28,1.94),(2087,1.21,2.0),(2091,2.96,2.96),(2095,1.13,2.0),(2100,1.57,2.38),(2104,1.06,1.79),(2109,1.21,2.23),(2113,0.99,1.72),(2122,1.06,1.94),(2131,0.91,1.57),(2140,1.21,1.86),(2144,0.88,1.65),(2153,1.06,1.86),(2162,0.84,1.5),(2166,1.06,1.65),(2175,0.84,1.43),(2184,1.06,1.64),(2193,1.35,1.64),(2202,1.43,1.64),(2211,1.46,1.57),(2217,1.39,1.5),(2222,1.13,1.35),(2228,1.43,1.57),(2237,1.57,1.6),(2240,1.55,1.57),(2255,1.57,1.58),(2273,1.52,1.53),(2296,1.42,1.43),(2317,1.33,1.33),(2340,1.23,1.23),(2362,1.13,1.13),(2380,1.06,1.06),(2388,1.02,1.02),(2392,0.9,0.98),(2396,0.62,0.85),(2400,0.55,0.77),(2405,0.5,0.7),(2415,0.44,0.6),(2436,0.37,0.55),(2456,0.31,0.5),(2477,0.27,0.47),(2498,0.24,0.45),(2539,0.2,0.4),(2581,0.18,0.36),(2622,0.16,0.31),(2664,0.15,0.27),(2705,0.14,0.23),(2747,0.12,0.18),(2788,0.11,0.15),(2830,0.1,0.12),(2871,0.08,0.11),(2913,0.07,0.095),(2954,0.06,0.08),(2996,0.05,0.066),(3020,0.06,0.07)]

TIME_TICKS = [0, 5, 10, 15, 20]
P1_YTICKS = [180, 200, 220, 240, 260, 280]
P2_YTICKS = [180, 200, 220, 240, 260, 280, 300]
P3_YTICKS = [284, 284.5, 285, 285.5, 286, 286.5, 287, 287.5]
P3_YTICKTEXT = ["284", "284.5", "285", "285.5", "286", "286.5", "287", "287.5"]
P4_XTICKS = [600, 800, 1000, 1200, 1400, 1600, 1800]
P4_YTICKS = [20, 40, 60, 80, 100, 120]
P5_XTICKS = [1800, 2000, 2200, 2400, 2600, 2800, 3000]
P5_YTICKS = [0, 1, 2, 3, 4, 5, 6, 7, 8, 9]
SHADE_SPANS = [(0.0, 5.85), (22.85, 24.02)]


def col(pairs, i):
    return [p[i] for p in pairs]


def join_gap(a, b, gapx=3.2):
    return list(a) + [gapx] + list(b)


def join_vals(a, b):
    return list(a) + [None] + list(b)


def fit(x, y):
    n = min(len(x), len(y))
    return x[:n], y[:n]


fig = go.Figure()


def line(x, y, color, width, name, xa, ya, leg, show=True, group=None):
    x, y = fit(x, y)
    fig.add_trace(go.Scatter(x=x, y=y, mode="lines", name=name,
                             line=dict(color=color, width=width),
                             xaxis=xa, yaxis=ya, legend=leg, showlegend=show,
                             legendgroup=group or name, hoverinfo="skip"))


def xmark(x, y, color, xa, ya):
    fig.add_trace(go.Scatter(x=x, y=y, mode="markers", showlegend=False,
                             marker=dict(symbol="x-thin", size=20, color=color,
                                         line=dict(color=color, width=6)),
                             xaxis=xa, yaxis=ya, hoverinfo="skip"))


SP = " "  # gap between legend line and its text

# Panel 1
W1 = 7.5
line(col(P1_85, 0), col(P1_85, 1), C_BROWN, W1, SP + "85<sup>o</sup> WRT Nadir", "x", "y", "legend")
line(col(P1_95, 0), col(P1_95, 1), C_ORANGE, W1, SP + "95<sup>o</sup> WRT Nadir", "x", "y", "legend")
line(col(P1_125, 0), col(P1_125, 1), C_GREEN, W1, SP + "125<sup>o</sup> WRT Nadir", "x", "y", "legend")
line(col(P1_180, 0), col(P1_180, 1), C_BLUE, W1, SP + "180<sup>o</sup> WRT Nadir", "x", "y", "legend")
xmark(col(P1_X, 0), col(P1_X, 1), C_BLUE, "x", "y")

# Panel 2
line(col(P1_180, 0), col(P1_180, 1), C_BLUE, W1, SP + "AERI 985-900 cm<sup>-1</sup> (Window)", "x2", "y2", "legend2")
line(col(P2_2510, 0), col(P2_2510, 1), C_LBLUE, 4, SP + "AERI 2510-2515 cm<sup>-1</sup> (Window)", "x2", "y2", "legend2")
xmark(col(P2_X_WIN, 0), col(P2_X_WIN, 1), C_BLUE, "x2", "y2")
xmark(col(P2_X_2510, 0), col(P2_X_2510, 1), C_LBLUE, "x2", "y2")

# Panel 3
T3 = join_gap(T3_PRE, T3_POST)
line(T3, join_vals(O_PRE, O_POST), C_ORANGE, 8, SP + "AERI 675-680 cm<sup>-1</sup> (Surf Air)", "x3", "y3", "legend3")
line(T3, join_vals(B_PRE, B_POST), C_BLUE, 8, SP + "AERI 700-705 cm<sup>-1</sup>", "x3", "y3", "legend3")
line(T3, join_vals(R_PRE, R_POST), C_BROWN, 4, SP + "AERI 2295-2300 cm<sup>-1</sup> (Surf Air)", "x3", "y3", "legend3")
line(T3, join_vals(L_PRE, L_POST), C_LBLUE, 4, SP + "AERI 2282-2287 cm<sup>-1</sup>", "x3", "y3", "legend3")
for v, c in zip(P3_X_VALS, [C_ORANGE, C_BLUE, C_BROWN, C_LBLUE]):
    xmark([P3_X_T], [v], c, "x3", "y3")

# Panel 4
line(col(P4, 0), col(P4, 1), "black", 4.5, SP + "Mean Radiance 0 to 24h UTC 20240526", "x4", "y4", "legend4")
line(col(P4, 0), col(P4, 2), "rgb(255,0,0)", 4.5, SP + "... cloudy", "x4", "y4", "legend4")

# Panel 5
line(col(P5, 0), col(P5, 1), "black", 4.5, SP + "Mean Radiance 0 to 24h UTC 20240526", "x5", "y5", "legend5", group="b5")
line(col(P5, 0), col(P5, 2), "rgb(255,0,0)", 4.5, SP + "... cloudy", "x5", "y5", "legend5", group="r5")

XD = [376 / 3825, 3004 / 3825]
YD = [[0.79950, 0.95067], [0.61210, 0.76317], [0.42457, 0.57588], [0.23703, 0.38825], [0.04947, 0.20077]]
XR = [[0, 24.02], [0, 24.02], [0, 24.02], [520, 1800], [1800, 3020.3]]
YR = [[178.2, 292.3], [177.22, 315.65], [283.806, 287.80], [1.76, 140.1], [-0.373, 9.089]]
XT = [TIME_TICKS, TIME_TICKS, TIME_TICKS, P4_XTICKS, P5_XTICKS]
YT = [P1_YTICKS, P2_YTICKS, P3_YTICKS, P4_YTICKS, P5_YTICKS]
YTT = [[str(v) for v in P1_YTICKS], [str(v) for v in P2_YTICKS], P3_YTICKTEXT,
       [str(v) for v in P4_YTICKS], [str(v) for v in P5_YTICKS]]
XTITLE = ["UTC hours on 20240526"] * 3 + ["Wavenumber, cm<sup>-1</sup>"] * 2
YTITLE = ["AERI 985-900 cm<sup>-1</sup> (Window) BT", "Zenith BTs, K", "Zenith BTs, K",
          "Mean Radiance, mW/(m<sup>2</sup>  sr cm<sup>-1</sup>)", "Mean Radiance, mW/(m<sup>2</sup>  sr cm<sup>-1</sup>)"]

layout = dict(width=3825, height=6000, margin=dict(l=0, r=0, t=0, b=0, autoexpand=False),
              paper_bgcolor="white", plot_bgcolor="white",
              font=dict(family=FONT, size=38, color=GRAY), hovermode=False)

for i in range(5):
    k = "" if i == 0 else str(i + 1)
    layout["xaxis" + k] = dict(domain=XD, anchor="y" + k, range=XR[i], tickmode="array",
                               tickvals=XT[i], ticktext=[str(v) for v in XT[i]],
                               ticks="inside", ticklen=27, tickwidth=3, tickcolor=GRAY,
                               showline=True, linecolor=GRAY, linewidth=3,
                               showgrid=False, zeroline=False, automargin=False,
                               tickfont=dict(family=FONT, size=38, color=GRAY),
                               ticklabelstandoff=13,
                               title=dict(text=XTITLE[i], font=dict(family=FONT, size=46, color=GRAY), standoff=31))
    layout["yaxis" + k] = dict(domain=YD[i], anchor="x" + k, range=YR[i], tickmode="array",
                               tickvals=YT[i], ticktext=YTT[i],
                               ticks="inside", ticklen=27, tickwidth=3, tickcolor=AXBLUE,
                               showline=True, linecolor=AXBLUE, linewidth=3, mirror=True,
                               showgrid=False, zeroline=False, automargin=False,
                               tickfont=dict(family=FONT, size=38, color=AXBLUE),
                               ticklabelstandoff=22,
                               title=dict(text=YTITLE[i], font=dict(family=FONT, size=46, color=AXBLUE), standoff=28))

LEG = [("legend", 0.1352, 0.8604, 14), ("legend2", 0.4967, 0.7549, 10), ("legend3", 0.4967, 0.4841, 13),
       ("legend4", 0.4766, 0.3822, 3), ("legend5", 0.4766, 0.1947, 3)]
for name, lx, ly, gap in LEG:
    layout[name] = dict(x=lx, y=ly, xanchor="left", yanchor="top", bgcolor="rgba(0,0,0,0)",
                        borderwidth=0, itemwidth=233, tracegroupgap=gap, traceorder="grouped",
                        font=dict(family=FONT, size=39, color="black"))

shapes = []
for i in range(3):
    k = "" if i == 0 else str(i + 1)
    for x0, x1 in SHADE_SPANS:
        shapes.append(dict(type="rect", xref="x" + k, yref="y" + k + " domain", x0=x0, x1=x1,
                           y0=0, y1=1, fillcolor="rgb(255,255,0)", opacity=0.15,
                           line=dict(width=0), layer="above"))
layout["shapes"] = shapes

fig.update_layout(**layout)
fig.write_html("out.html")
